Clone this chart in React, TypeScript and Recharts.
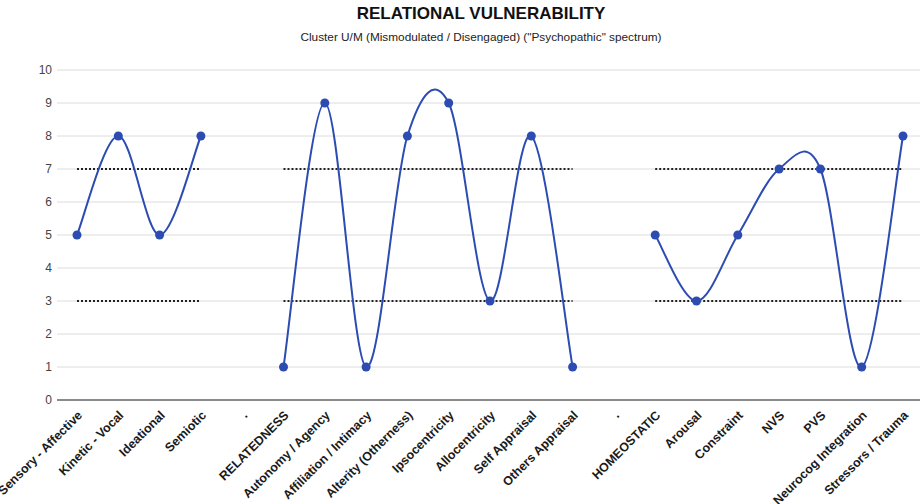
import React from "react";
import { LineChart, Line, XAxis, YAxis, CartesianGrid } from "recharts";

const categories = [
  "Sensory - Affective", "Kinetic - Vocal", "Ideational", "Semiotic", ".",
  "RELATEDNESS", "Autonomy / Agency", "Affiliation / Intimacy", "Alterity (Otherness)",
  "Ipsocentricity", "Allocentricity", "Self Appraisal", "Others Appraisal", ". ",
  "HOMEOSTATIC", "Arousal", "Constraint", "NVS", "PVS", "Neurocog Integration", "Stressors / Trauma",
];
const scores = [5, 8, 5, 8, null, 1, 9, 1, 8, 9, 3, 8, 1, null, 5, 3, 5, 7, 7, 1, 8];
const upperBand = [7, 7, 7, 7, null, 7, 7, 7, 7, 7, 7, 7, 7, null, 7, 7, 7, 7, 7, 7, 7];
const lowerBand = [3, 3, 3, 3, null, 3, 3, 3, 3, 3, 3, 3, 3, null, 3, 3, 3, 3, 3, 3, 3];
const yTicks = [0, 1, 2, 3, 4, 5, 6, 7, 8, 9, 10];

const data = categories.map((c, i) => ({
  name: c,
  score: scores[i],
  upper: upperBand[i],
  lower: lowerBand[i],
}));

const FONT = "'Liberation Sans', Arial, sans-serif";
const BLUE = "#2c4cb2";

// Catmull-Rom (cardinal, tension 0) curve factory
const smoothCurve = (context: any) => {
  let pts: number[][] = [];
  return {
    areaStart() {},
    areaEnd() {},
    lineStart() {
      pts = [];
    },
    lineEnd() {
      const n = pts.length;
      if (!n) return;
      context.moveTo(pts[0][0], pts[0][1]);
      if (n === 1) {
        context.lineTo(pts[0][0], pts[0][1]);
        return;
      }
      for (let i = 0; i < n - 1; i++) {
        const p0 = pts[Math.max(0, i - 1)];
        const p1 = pts[i];
        const p2 = pts[i + 1];
        const p3 = pts[Math.min(n - 1, i + 2)];
        context.bezierCurveTo(
          p1[0] + (p2[0] - p0[0]) / 6,
          p1[1] + (p2[1] - p0[1]) / 6,
          p2[0] - (p3[0] - p1[0]) / 6,
          p2[1] - (p3[1] - p1[1]) / 6,
          p2[0],
          p2[1]
        );
      }
    },
    point(x: number, y: number) {
      pts.push([+x, +y]);
    },
  };
};

const XTick = (props: any) => {
  const { x, y, payload } = props;
  const ax = x + 6;
  const ay = y + 8;
  return (
    <text
      x={ax}
      y={ay}
      transform={`rotate(-45 ${ax} ${ay})`}
      textAnchor="end"
      fontSize={12.5}
      fontWeight="bold"
      fill="#1a1a1a"
      fontFamily={FONT}
    >
      {payload.value.trim()}
    </text>
  );
};

export default function App() {
  return (
    <div style={{ position: "absolute", left: 0, top: 0, width: 920, height: 504, background: "#fff" }}>
      <div
        style={{
          position: "absolute",
          left: 0,
          width: 962,
          top: 4,
          textAlign: "center",
          fontFamily: FONT,
          fontWeight: "bold",
          fontSize: 17,
          color: "#111",
        }}
      >
        RELATIONAL VULNERABILITY
      </div>
      <div
        style={{
          position: "absolute",
          left: 0,
          width: 962,
          top: 30,
          textAlign: "center",
          fontFamily: FONT,
          fontSize: 11.8,
          color: "#222",
        }}
      >
        Cluster U/M (Mismodulated / Disengaged) ("Psychopathic" spectrum)
      </div>
      <LineChart
        width={920}
        height={504}
        data={data}
        margin={{ top: 70, right: 0, bottom: 0, left: 0 }}
        style={{ position: "absolute", left: 0, top: 0 }}
      >
        <CartesianGrid vertical={false} stroke="#dcdcdc" strokeWidth={1} />
        <XAxis
          dataKey="name"
          interval={0}
          height={104}
          padding={{ left: 20, right: 17 }}
          tickLine={false}
          axisLine={{ stroke: "#8a8a8a", strokeWidth: 2 }}
          tick={<XTick />}
        />
        <YAxis
          domain={[0, 10]}
          ticks={yTicks}
          width={57}
          axisLine={false}
          tickLine={false}
          tickSize={3}
          tickMargin={2}
          tick={{ fontSize: 12, fill: "#444", fontFamily: FONT }}
        />
        <Line
          dataKey="upper"
          type="linear"
          stroke="#222"
          strokeWidth={2}
          strokeDasharray="2 2"
          dot={false}
          activeDot={false}
          isAnimationActive={false}
        />
        <Line
          dataKey="lower"
          type="linear"
          stroke="#222"
          strokeWidth={2}
          strokeDasharray="2 2"
          dot={false}
          activeDot={false}
          isAnimationActive={false}
        />
        <Line
          dataKey="score"
          type={smoothCurve as any}
          stroke={BLUE}
          strokeWidth={2}
          dot={{ r: 4.5, fill: BLUE, stroke: BLUE, strokeWidth: 0 }}
          activeDot={false}
          isAnimationActive={false}
        />
      </LineChart>
    </div>
  );
}
